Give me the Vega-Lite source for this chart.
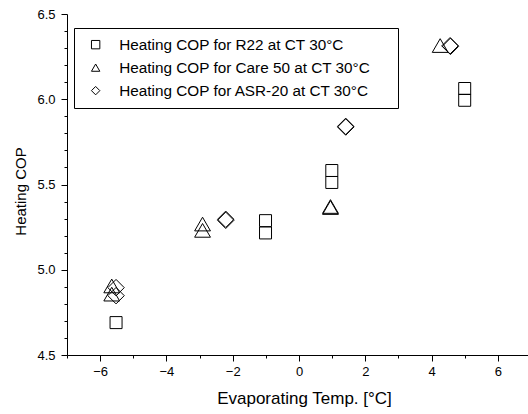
{
  "$schema": "https://vega.github.io/schema/vega-lite/v6.json",
  "width": 461,
  "height": 341,
  "autosize": {"type": "none"},
  "padding": {"left": 67, "top": 14, "right": 0, "bottom": 59},
  "background": "white",
  "config": {
    "view": {"stroke": null},
    "font": "Liberation Sans",
    "axis": {"labelColor": "black", "titleColor": "black", "domainColor": "black", "tickColor": "black", "labelFont": "Liberation Sans", "titleFont": "Liberation Sans", "titleFontWeight": "normal", "grid": false, "labelOverlap": false},
    "legend": {"symbolStrokeColor": "black", "symbolFillColor": "transparent", "symbolStrokeWidth": 1}
  },
  "datasets": {
    "pts": [
      {"series": "Heating COP for R22 at CT 30°C", "t": -5.52, "cop": 4.69},
      {"series": "Heating COP for R22 at CT 30°C", "t": -1.01, "cop": 5.288},
      {"series": "Heating COP for R22 at CT 30°C", "t": -1.01, "cop": 5.216},
      {"series": "Heating COP for R22 at CT 30°C", "t": 0.99, "cop": 5.582},
      {"series": "Heating COP for R22 at CT 30°C", "t": 0.99, "cop": 5.512},
      {"series": "Heating COP for R22 at CT 30°C", "t": 5.0, "cop": 6.063},
      {"series": "Heating COP for R22 at CT 30°C", "t": 5.0, "cop": 5.994},
      {"series": "Heating COP for Care 50 at CT 30°C", "t": -5.65, "cop": 4.905},
      {"series": "Heating COP for Care 50 at CT 30°C", "t": -5.65, "cop": 4.857},
      {"series": "Heating COP for Care 50 at CT 30°C", "t": -2.91, "cop": 5.268},
      {"series": "Heating COP for Care 50 at CT 30°C", "t": -2.91, "cop": 5.231},
      {"series": "Heating COP for Care 50 at CT 30°C", "t": 0.95, "cop": 5.371},
      {"series": "Heating COP for Care 50 at CT 30°C", "t": 0.95, "cop": 5.365},
      {"series": "Heating COP for Care 50 at CT 30°C", "t": 4.26, "cop": 6.315},
      {"series": "Heating COP for ASR-20 at CT 30°C", "t": -5.52, "cop": 4.895},
      {"series": "Heating COP for ASR-20 at CT 30°C", "t": -5.52, "cop": 4.848},
      {"series": "Heating COP for ASR-20 at CT 30°C", "t": -2.21, "cop": 5.296},
      {"series": "Heating COP for ASR-20 at CT 30°C", "t": -2.21, "cop": 5.29},
      {"series": "Heating COP for ASR-20 at CT 30°C", "t": 1.41, "cop": 5.841},
      {"series": "Heating COP for ASR-20 at CT 30°C", "t": 1.41, "cop": 5.837},
      {"series": "Heating COP for ASR-20 at CT 30°C", "t": 4.56, "cop": 6.314},
      {"series": "Heating COP for ASR-20 at CT 30°C", "t": 4.57, "cop": 6.31}
    ]
  },
  "resolve": {"scale": {"x": "independent", "y": "independent"}, "axis": {"x": "independent", "y": "independent"}},
  "layer": [
    {
      "layer": [
        {
          "data": {"name": "pts"},
          "mark": {"type": "point", "opacity": 0}
        },
        {
          "mark": {"type": "rule", "color": "black", "strokeWidth": 1},
          "encoding": {"y": {"datum": 6.5, "type": "quantitative"}}
        }
      ],
      "encoding": {
        "x": {
          "field": "t", "type": "quantitative",
          "scale": {"domain": [-7, 6.91], "nice": false, "zero": false},
          "axis": {"orient": "bottom", "title": null, "labels": false, "domain": false, "tickSize": 3, "values": [-7, -5, -3, -1, 1, 3, 5]}
        },
        "y": {
          "field": "cop", "type": "quantitative",
          "scale": {"domain": [4.5, 6.5], "nice": false, "zero": false},
          "axis": {"orient": "left", "title": null, "labels": false, "domain": false, "tickSize": 3, "values": [4.6, 4.7, 4.8, 4.9, 5.1, 5.2, 5.3, 5.4, 5.6, 5.7, 5.8, 5.9, 6.1, 6.2, 6.3, 6.4]}
        }
      }
    },
    {
      "data": {"name": "pts"},
      "layer": [
        {
          "transform": [{"filter": "datum.series === 'Heating COP for R22 at CT 30°C'"}],
          "mark": {"type": "point", "filled": false, "color": "black", "strokeWidth": 1, "opacity": 1, "size": 144}
        },
        {
          "transform": [{"filter": "datum.series === 'Heating COP for Care 50 at CT 30°C'"}],
          "mark": {"type": "point", "filled": false, "color": "black", "strokeWidth": 1, "opacity": 1, "size": 250}
        },
        {
          "transform": [{"filter": "datum.series === 'Heating COP for ASR-20 at CT 30°C'"}],
          "mark": {"type": "point", "filled": false, "color": "black", "strokeWidth": 1, "opacity": 1, "size": 270}
        }
      ],
      "encoding": {
        "x": {
          "field": "t", "type": "quantitative",
          "scale": {"domain": [-7, 6.91], "nice": false, "zero": false},
          "axis": {
            "orient": "bottom",
            "title": "Evaporating Temp. [°C]",
            "titleFontSize": 17,
            "titlePadding": 12,
            "titleX": 237,
            "labelFontSize": 13,
            "labelPadding": 4,
            "tickSize": 6,
            "values": [-6, -4, -2, 0, 2, 4, 6],
            "labelFlush": false
          }
        },
        "y": {
          "field": "cop", "type": "quantitative",
          "scale": {"domain": [4.5, 6.5], "nice": false, "zero": false},
          "axis": {
            "orient": "left",
            "title": "Heating COP",
            "titleFontSize": 15,
            "titlePadding": 8,
            "titleY": 177,
            "labelFontSize": 13,
            "labelPadding": 6,
            "tickSize": 6,
            "format": ".1f",
            "values": [4.5, 5.0, 5.5, 6.0, 6.5],
            "labelFlush": false
          }
        },
        "shape": {
          "field": "series", "type": "nominal",
          "scale": {
            "domain": ["Heating COP for R22 at CT 30°C", "Heating COP for Care 50 at CT 30°C", "Heating COP for ASR-20 at CT 30°C"],
            "range": ["square", "triangle-up", "diamond"]
          },
          "legend": {
            "title": "\u00a0",
            "titleOrient": "right",
            "titleFontSize": 1,
            "titlePadding": 19,
            "orient": "none",
            "legendX": 7,
            "legendY": 14,
            "strokeColor": "black",
            "fillColor": "white",
            "padding": 9,
            "rowPadding": 7,
            "symbolSize": 70,
            "symbolOffset": 5,
            "symbolStrokeColor": "black",
            "symbolFillColor": "transparent",
            "symbolStrokeWidth": 1,
            "labelFontSize": 15.3,
            "labelColor": "black",
            "labelFont": "Liberation Sans",
            "labelOffset": 16,
            "labelLimit": 400
          }
        }
      }
    }
  ]
}
